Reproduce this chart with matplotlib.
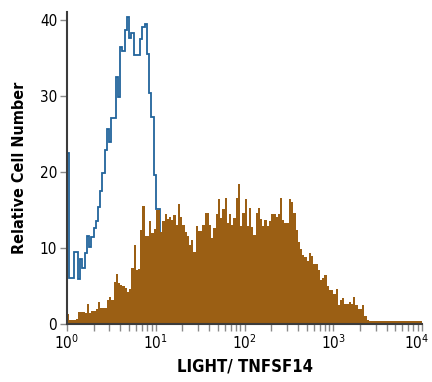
import numpy as np
import matplotlib
matplotlib.use("Agg")
import matplotlib.pyplot as plt
import matplotlib.transforms as mtransforms
from matplotlib import font_manager
from matplotlib.ticker import LogLocator, NullFormatter, FixedLocator

# histogram counts, 160 log-spaced bins from 10^0 to 10^4
stained = [1.2, 0.5, 0.5, 0.5, 0.6, 1.5, 1.5, 1.5, 1.4, 2.6,
           1.4, 1.6, 1.7, 1.9, 2.8, 2.0, 2.0, 2.0, 3.1, 3.5,
           3.1, 5.5, 6.5, 5.4, 5.1, 5.0, 4.7, 4.1, 4.6, 7.3,
           10.4, 7.0, 7.2, 12.4, 15.5, 11.5, 11.6, 13.5, 11.9, 12.5,
           15.0, 15.0, 12.1, 13.5, 14.4, 13.8, 14.1, 13.6, 14.3, 13.0,
           15.7, 14.1, 13.0, 12.1, 11.5, 10.3, 11.0, 9.4, 12.9, 12.2,
           12.2, 13.0, 14.6, 14.6, 13.0, 11.3, 12.6, 14.4, 16.4, 13.9,
           15.1, 16.5, 13.2, 14.4, 13.0, 13.9, 16.5, 18.4, 12.9, 14.6,
           16.4, 12.8, 15.3, 12.7, 11.7, 14.6, 15.3, 13.8, 12.8, 13.6,
           12.8, 13.5, 14.4, 14.4, 14.0, 14.4, 16.5, 13.6, 13.2, 13.2,
           16.4, 16.0, 14.6, 12.4, 10.7, 9.8, 9.1, 8.8, 8.3, 9.3,
           8.9, 7.8, 7.8, 7.0, 5.7, 6.0, 6.4, 4.9, 4.4, 4.4,
           3.9, 4.6, 2.5, 3.1, 3.4, 2.6, 2.6, 2.9, 2.6, 3.5,
           2.5, 1.9, 1.9, 2.5, 1.0, 0.5, 0.35, 0.35, 0.35, 0.35,
           0.35, 0.35, 0.35, 0.35, 0.35, 0.35, 0.35, 0.35, 0.35, 0.35,
           0.35, 0.35, 0.35, 0.35, 0.35, 0.35, 0.35, 0.35, 0.35, 0.35]

# isotype control, first 60 bins (rest empty)
isotype = [22.5, 6.0, 6.0, 9.4, 9.4, 5.9, 8.5, 7.3, 9.3, 11.5,
           10.1, 11.4, 12.6, 13.5, 15.4, 17.5, 19.9, 22.9, 25.6, 24.0,
           27.1, 27.1, 32.5, 29.9, 36.5, 36.0, 38.7, 40.4, 37.6, 38.3,
           35.4, 35.4, 35.4, 37.5, 39.1, 39.5, 35.6, 30.4, 27.3, 19.6,
           15.1, 15.1, 12.0, 9.5, 8.0, 6.0, 5.0, 4.0, 3.0, 2.5,
           2.0, 1.5, 1.0, 1.0, 0.8, 0.5, 0.5, 0.3, 0.3, 0.2]

y_ticks = [0, 10, 20, 30, 40]
x_ticks = [1, 10, 100, 1000, 10000]
x_ticklabels = [r"$\mathregular{10^{%d}}$" % i for i in range(5)]

names = {f.name for f in font_manager.fontManager.ttflist}
font = "Liberation Sans Narrow" if "Liberation Sans Narrow" in names else "DejaVu Sans"
plt.rcParams["font.family"] = [font, "DejaVu Sans"]
plt.rcParams["font.stretch"] = "condensed"
plt.rcParams["mathtext.default"] = "regular"

edges = np.logspace(0, 4, len(stained) + 1)

fig = plt.figure(figsize=(4.32, 3.82), dpi=100)
ax = fig.add_axes([0.155, 0.153, 0.822, 0.816])

ax.stairs(isotype, edges[:len(isotype) + 1], color="#22649c", linewidth=1.3)
ax.stairs(stained, edges, fill=True, color="#9b5f14")

ax.set_xscale("log")
ax.set_xlim(1, 1e4)
ax.set_ylim(0, 41.1)

ax.xaxis.set_major_locator(FixedLocator(x_ticks))
ax.set_xticklabels(x_ticklabels)
ax.xaxis.set_minor_locator(LogLocator(base=10, subs=np.arange(2, 10)))
ax.xaxis.set_minor_formatter(NullFormatter())
ax.set_yticks(y_ticks)

for s in ["top", "right"]:
    ax.spines[s].set_visible(False)
for s in ["left", "bottom"]:
    ax.spines[s].set_color("#3c3c3c")
    ax.spines[s].set_linewidth(1.5)

ax.tick_params(which="both", direction="out", length=5, width=1,
               color="#8a8a8a", labelsize=11, pad=2)

# last label sits at the figure edge, pull it in a little
last = ax.get_xticklabels()[-1]
last.set_transform(last.get_transform() +
                   mtransforms.ScaledTranslation(-5 / 100, 0, fig.dpi_scale_trans))

ax.set_xlabel("LIGHT/ TNFSF14", fontsize=12, fontweight="bold", labelpad=4)
ax.set_ylabel("Relative Cell Number", fontsize=11.5, fontweight="bold", labelpad=9)

fig.savefig("out.png", dpi=100)
